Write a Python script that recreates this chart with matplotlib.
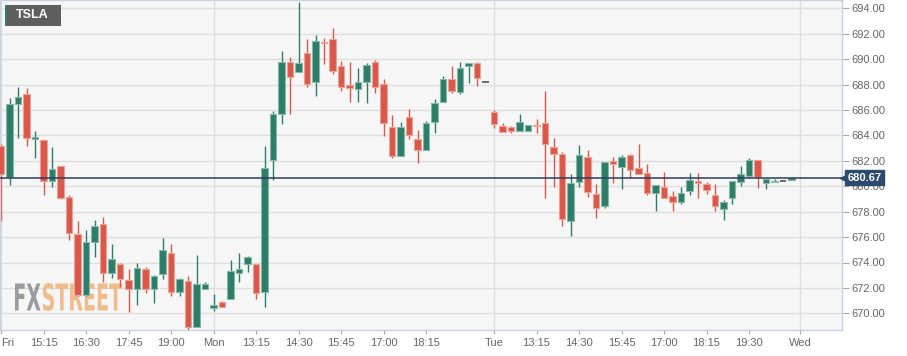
import matplotlib
matplotlib.use('Agg')
import matplotlib.pyplot as plt
from matplotlib.textpath import TextPath
from matplotlib.patches import PathPatch
from matplotlib.font_manager import FontProperties
import matplotlib.transforms as mtransforms
import numpy as np

# 15 minute TSLA candles, Fri 14:00 -> Tue 20:45
opens = [683.2, 680.76, 686.47, 687.23, 683.7, 683.64, 680.41, 681.6, 679.13, 676.24,
         671.45, 675.64, 677.0, 673.2, 673.91, 672.63, 671.9, 673.52, 671.9, 673.12,
         674.72, 671.66, 672.55, 668.9, 671.9, 670.4, 670.87, 671.1, 673.2, 673.88,
         673.91, 671.71, 682.07, 685.66, 689.8, 689.02, 690.46, 688.23, 691.38, 691.56,
         689.49, 687.97, 687.65, 688.18, 689.8, 688.02, 684.66, 682.41, 685.42, 683.72,
         682.85, 685.03, 686.66, 688.44, 687.44, 689.49, 689.67, 688.23, 685.87, 684.77,
         684.69, 684.35, 684.35, 684.85, 684.95, 683.12, 682.54, 677.27, 680.34, 682.33,
         679.39, 678.47, 681.96, 681.54, 682.49, 681.41, 681.02, 679.5, 679.92, 679.23,
         678.74, 679.66, 680.41, 680.15, 679.34, 678.19, 679.1, 680.31, 680.83, 682.07,
         680.23, 680.31, 680.41, 680.47]
highs = [683.3, 686.92, 687.78, 687.7, 684.35, 683.7, 683.09, 681.62, 679.3, 677.27,
         676.56, 677.35, 677.6, 675.43, 673.94, 673.47, 673.94, 673.67, 673.0, 675.93,
         675.43, 672.76, 672.94, 674.6, 672.44, 671.5, 670.97, 674.2, 674.72, 674.51,
         673.91, 683.2, 685.92, 690.64, 690.14, 694.5, 691.56, 691.9, 691.64, 692.43,
         689.86, 689.75, 689.33, 689.67, 689.93, 688.41, 685.6, 685.03, 686.05, 684.43,
         685.13, 686.87, 688.68, 689.46, 689.75, 689.7, 689.75, 688.23, 686.0, 684.95,
         684.77, 685.66, 684.82, 685.29, 687.5, 683.77, 682.72, 680.97, 683.25, 682.85,
         680.15, 681.88, 682.3, 682.43, 682.51, 683.3, 681.75, 680.07, 681.1, 679.63,
         679.97, 681.02, 681.02, 680.36, 680.15, 678.92, 680.41, 681.6, 682.22, 682.07,
         680.68, 680.57, 680.41, 680.76]
lows = [677.3, 680.1, 683.77, 683.2, 682.2, 679.3, 679.92, 678.97, 675.77, 671.4,
        671.4, 674.4, 672.5, 672.76, 672.1, 670.08, 670.66, 671.58, 670.84, 672.68,
        671.37, 671.37, 668.69, 668.9, 671.9, 670.2, 670.48, 671.1, 672.5, 673.28,
        671.1, 670.48, 680.5, 684.87, 685.66, 689.0, 687.84, 687.13, 689.62, 688.83,
        687.52, 686.6, 686.6, 686.53, 687.3, 683.98, 682.2, 682.41, 683.69, 681.8,
        682.85, 684.17, 686.66, 687.36, 687.23, 688.1, 687.9, 688.23, 684.6, 684.3,
        684.22, 684.35, 684.35, 684.17, 679.05, 679.97, 676.9, 676.09, 679.97, 679.18,
        677.48, 678.26, 680.23, 679.76, 680.63, 680.97, 679.31, 678.05, 679.1, 678.08,
        678.6, 679.31, 679.05, 679.37, 678.05, 677.35, 678.58, 680.05, 680.63, 679.89,
        679.76, 680.31, 680.41, 680.47]
closes = [681.0, 686.47, 687.05, 683.82, 683.9, 680.41, 681.39, 679.1, 676.3, 671.45,
          675.62, 676.85, 673.15, 674.25, 672.68, 671.9, 673.54, 671.9, 672.94, 674.99,
          671.66, 672.68, 668.95, 672.28, 672.28, 670.66, 670.48, 673.36, 673.5, 674.41,
          671.58, 681.41, 685.66, 689.8, 688.57, 689.73, 688.05, 691.43, 691.25, 689.1,
          687.84, 687.76, 688.18, 689.54, 687.84, 685.0, 682.41, 684.69, 684.03, 682.85,
          684.95, 686.58, 688.44, 687.52, 689.28, 689.7, 688.49, 688.23, 684.87, 684.3,
          684.35, 685.03, 684.82, 684.77, 683.33, 682.54, 677.4, 680.28, 682.43, 679.58,
          678.26, 681.88, 681.73, 682.28, 681.28, 680.97, 679.44, 680.07, 679.1, 678.74,
          679.5, 680.5, 680.23, 679.71, 678.47, 678.76, 680.41, 680.94, 682.07, 680.76,
          680.55, 680.41, 680.41, 680.67]

last_price = 680.67
tick_bars = [0, 5, 10, 15, 20, 25, 30, 35, 40, 45, 50, 58, 63, 68, 73, 78, 83, 88, 94]
tick_labels = ['Fri', '15:15', '16:30', '17:45', '19:00', 'Mon', '13:15', '14:30', '15:45',
               '17:00', '18:15', 'Tue', '13:15', '14:30', '15:45', '17:00', '18:15', '19:30', 'Wed']
day_bars = [0, 25, 58, 94]
price_ticks = [670, 672, 674, 676, 678, 680, 682, 684, 686, 688, 690, 692, 694]

green = '#2e7d69'
green_edge = '#86b9aa'
red = '#d9584a'
red_edge = '#eda297'
flat = '#555555'
txt = '#666666'

plt.rcParams['font.family'] = ['Liberation Sans', 'DejaVu Sans']

fig = plt.figure(figsize=(9.07, 3.56), dpi=100)
fig.patch.set_facecolor('white')
ax = fig.add_axes([0.0, 26 / 356, 842 / 907, 330 / 356])
ax.set_facecolor('#f6f6f6')

# grid
for p in price_ticks:
    ax.axhline(p, color='#dedede', lw=1, zorder=0)
for d in day_bars:
    ax.axvline(d, color='#dedede', lw=1, zorder=0)

# candles
o = np.array(opens)
h = np.array(highs)
l = np.array(lows)
c = np.array(closes)
x = np.arange(len(o))
for i in range(len(o)):
    if c[i] > o[i]:
        col, ec = green, green_edge
    elif c[i] < o[i]:
        col, ec = red, red_edge
    else:
        col, ec = flat, flat
    ax.vlines(x[i], l[i], h[i], color=col, lw=1, zorder=2)
    if c[i] == o[i]:
        ax.hlines(o[i], x[i] - 0.38, x[i] + 0.38, color=col, lw=1.2, zorder=3)
    else:
        ax.bar(x[i], abs(c[i] - o[i]), bottom=min(o[i], c[i]), width=0.76,
               color=col, edgecolor=ec, linewidth=0.8, zorder=3)

# last price line
ax.axhline(last_price, color='#2b3e5e', lw=1.1, zorder=4)

ax.set_xlim(-0.12, 98.94)
ax.set_ylim(668.69, 694.65)

ax.yaxis.tick_right()
ax.set_yticks(price_ticks)
ax.set_yticklabels(['%.2f' % p for p in price_ticks])
ax.set_xticks(tick_bars)
ax.set_xticklabels(tick_labels)
ax.get_xticklabels()[0].set_horizontalalignment('left')
ax.tick_params(axis='y', length=5, width=0.8, color='#aaaaaa', labelcolor=txt,
               labelsize=8, pad=2)
ax.tick_params(axis='x', length=3, width=0.8, color='#aaaaaa', labelcolor=txt,
               labelsize=8, pad=3)
for s in ax.spines.values():
    s.set_color('#c9d1e3')
    s.set_linewidth(1)

# price tag on the right
ax.plot([1.0015], [last_price], marker='<', ms=4, color='#2c4a6d',
        transform=ax.get_yaxis_transform(), clip_on=False, zorder=6)
ax.text(1.0065, last_price, '%.2f' % last_price, transform=ax.get_yaxis_transform(),
        color='white', fontsize=8, fontweight='bold', va='center', ha='left', zorder=7,
        bbox=dict(boxstyle='square,pad=0.2', fc='#2c4a6d', ec='#2c4a6d'))

# TSLA tag top left
fig.patches.append(matplotlib.patches.Rectangle((5 / 907, 1 - 26 / 356), 56 / 907, 21 / 356,
                   transform=fig.transFigure, fc='#5e5e5e', ec='none', zorder=10))
fig.patches.append(matplotlib.patches.Rectangle((5 / 907, 1 - 26 / 356), 2 / 907, 21 / 356,
                   transform=fig.transFigure, fc=green, ec='none', zorder=11))
fig.text(16 / 907, 1 - 15.5 / 356, 'TSLA', color='white', fontsize=9, fontweight='bold',
         va='center', ha='left', zorder=12)

# FXSTREET watermark, squeezed to look condensed
fp = FontProperties(family='DejaVu Sans', weight='bold')
p_fx = TextPath((0, 0), 'FX', size=40, prop=fp)
fx_end = p_fx.get_extents().x1
p_st = TextPath((fx_end + 2, 0), 'STREET', size=40, prop=fp)
b1 = p_fx.get_extents()
b2 = p_st.get_extents()
x0, x1 = b1.x0, b2.x1
y0, y1 = min(b1.y0, b2.y0), max(b1.y1, b2.y1)
sx = 107 / (x1 - x0)
sy = 28 / (y1 - y0)
tr = mtransforms.Affine2D().translate(-x0, -y0).scale(sx, sy).translate(15, 356 - 311)
ax.add_patch(PathPatch(p_fx, transform=tr, fc='#8f9196', ec='none', alpha=0.9,
                       clip_on=False, zorder=1))
ax.add_patch(PathPatch(p_st, transform=tr, fc='#f0b27a', ec='none', alpha=0.85,
                       clip_on=False, zorder=1))

fig.savefig('out.png', dpi=100)
